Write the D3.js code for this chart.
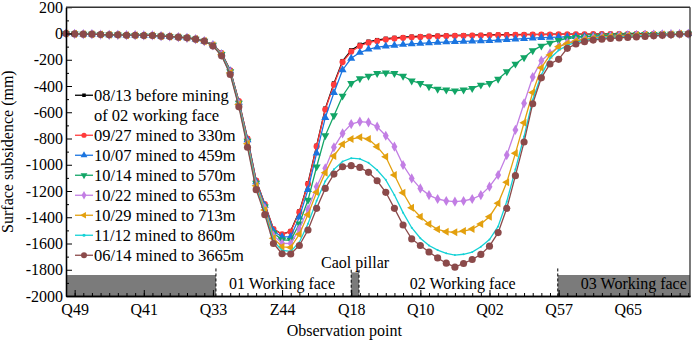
<!DOCTYPE html>
<html>
<head>
<meta charset="utf-8">
<script src="https://cdn.jsdelivr.net/npm/d3@7"></script>
<style>
  body { margin: 0; background: #fff; }
</style>
</head>
<body>
<script>
// observation points run Q50 ... left to right, one per index
const tickIndex = [1, 9, 17, 25, 33, 41, 49, 57, 65];
const tickLabels = ["Q49", "Q41", "Q33", "Z44", "Q18", "Q10", "Q02", "Q57", "Q65"];
const yTicks = [200, 0, -200, -400, -600, -800, -1000, -1200, -1400, -1600, -1800, -2000];

const s0813 = [0,-3,-5,-5,-8,-10,-10,-13,-13,-15,-15,-20,-23,-28,-33,-43,-58,-85,-150,-280,-515,-800,-1120,-1300,-1490,-1530,-1505,-1355,-1140,-855,-572,-380,-210,-128,-86,-62,-50,-40,-33,-28,-24,-21,-19,-17,-15,-14,-13,-12,-11,-10,-9,-8,-8,-7,-6,-6,-5,-5,-5,-4,-4,-4,-3,-3,-3,-3,-2,-2,-2,-2,-1,-1,-1];
const s0927 = [0,-3,-5,-5,-8,-10,-10,-13,-13,-15,-15,-20,-23,-28,-33,-43,-58,-85,-150,-280,-515,-800,-1120,-1300,-1490,-1530,-1510,-1361,-1147,-860,-579,-390,-218,-138,-95,-70,-57,-46,-38,-33,-29,-26,-23,-21,-19,-18,-17,-16,-15,-14,-13,-12,-11,-10,-9,-8,-8,-7,-7,-6,-6,-5,-5,-5,-4,-4,-4,-3,-3,-3,-2,-2,-2];
const s1007 = [0,-3,-5,-5,-8,-10,-10,-13,-13,-15,-15,-20,-23,-28,-33,-43,-58,-87,-155,-285,-525,-810,-1130,-1310,-1505,-1550,-1548,-1400,-1190,-912,-641,-451,-278,-189,-145,-120,-104,-97,-90,-84,-79,-75,-71,-68,-65,-62,-60,-58,-56,-54,-51,-47,-43,-39,-35,-32,-30,-27,-25,-24,-22,-20,-18,-16,-14,-12,-10,-9,-7,-6,-5,-3,-2];
const s1014 = [0,-3,-5,-5,-8,-10,-10,-13,-13,-15,-15,-20,-23,-28,-33,-43,-58,-88,-158,-290,-530,-820,-1140,-1320,-1520,-1572,-1575,-1450,-1269,-1015,-778,-626,-476,-379,-344,-324,-303,-299,-304,-324,-360,-380,-405,-423,-430,-436,-430,-418,-392,-380,-347,-291,-232,-183,-130,-95,-72,-52,-38,-30,-25,-20,-17,-14,-12,-10,-8,-7,-6,-5,-4,-3,-2];
const s1022 = [0,-3,-5,-5,-8,-10,-10,-13,-13,-15,-15,-20,-23,-28,-33,-43,-58,-90,-160,-295,-535,-830,-1150,-1330,-1540,-1598,-1600,-1490,-1340,-1167,-1027,-867,-761,-690,-672,-677,-710,-779,-862,-1002,-1104,-1180,-1231,-1261,-1276,-1281,-1276,-1261,-1231,-1167,-1078,-926,-735,-532,-332,-207,-151,-100,-70,-55,-40,-32,-26,-22,-18,-15,-12,-10,-8,-6,-5,-3,-2];
const s1029 = [0,-3,-5,-5,-8,-10,-10,-13,-13,-15,-15,-20,-23,-28,-33,-43,-58,-90,-162,-300,-540,-840,-1160,-1345,-1560,-1625,-1630,-1530,-1380,-1210,-1060,-933,-844,-804,-791,-804,-862,-939,-1078,-1213,-1327,-1396,-1452,-1492,-1510,-1515,-1505,-1490,-1452,-1396,-1294,-1134,-913,-680,-450,-261,-164,-100,-77,-58,-45,-36,-30,-25,-20,-17,-14,-11,-9,-7,-5,-3,-2];
const s1112 = [0,-3,-5,-5,-8,-10,-10,-13,-13,-15,-15,-20,-23,-28,-33,-43,-58,-92,-165,-305,-548,-852,-1175,-1362,-1580,-1652,-1660,-1590,-1450,-1275,-1125,-1035,-975,-950,-955,-985,-1040,-1115,-1230,-1365,-1480,-1560,-1615,-1650,-1675,-1688,-1682,-1665,-1625,-1570,-1470,-1280,-1035,-785,-505,-315,-190,-128,-90,-66,-52,-42,-36,-30,-26,-22,-18,-14,-11,-8,-6,-4,-3];
const s0614 = [0,-3,-5,-5,-8,-10,-10,-13,-13,-15,-15,-20,-23,-28,-33,-43,-58,-95,-170,-312,-559,-867,-1190,-1380,-1600,-1678,-1680,-1615,-1497,-1332,-1180,-1071,-1015,-1007,-1020,-1058,-1122,-1210,-1332,-1459,-1565,-1615,-1665,-1710,-1750,-1780,-1752,-1722,-1683,-1620,-1517,-1332,-1083,-827,-535,-338,-232,-197,-113,-80,-62,-50,-43,-38,-34,-30,-26,-22,-18,-14,-10,-6,-3];

const series = [
  {name: ["08/13 before mining", "of 02 working face"], values: s0813, color: "#000000", symbol: d3.symbolSquare, size: 18, rot: 0},
  {name: ["09/27 mined to 330m"], values: s0927, color: "#ff3b3b", symbol: d3.symbolCircle, size: 30, rot: 0},
  {name: ["10/07 mined to 459m"], values: s1007, color: "#1a74e0", symbol: d3.symbolTriangle, size: 28, rot: 0},
  {name: ["10/14 mined to 570m"], values: s1014, color: "#12a566", symbol: d3.symbolTriangle, size: 28, rot: 180},
  {name: ["10/22 mined to 653m"], values: s1022, color: "#c27ee4", symbol: d3.symbolDiamond, size: 30, rot: 0},
  {name: ["10/29 mined to 713m"], values: s1029, color: "#e3a00e", symbol: d3.symbolTriangle, size: 28, rot: -90},
  {name: ["11/12 mined to 860m"], values: s1112, color: "#14d2d6", symbol: d3.symbolCircle, size: 3, rot: 0},
  {name: ["06/14 mined to 3665m"], values: s0614, color: "#8b4a4a", symbol: d3.symbolCircle, size: 40, rot: 0}
];

const font = '"Liberation Serif", "Times New Roman", Times, serif';
const margin = {top: 7.25, right: 2, bottom: 47, left: 66};
const width = 692 - margin.left - margin.right;
const height = 343 - margin.top - margin.bottom;

const svg = d3.select("body").append("svg")
    .attr("width", 692)
    .attr("height", 343)
    .style("font-family", font)
  .append("g")
    .attr("transform", "translate(" + margin.left + "," + margin.top + ")");

const x = d3.scaleLinear().domain([0, 72.2]).range([0, width]);
const y = d3.scaleLinear().domain([-2000, 200]).range([height, 0]);

// mining zones along the bottom
const zones = [[0, 17.35, -1840], [33.0, 33.9, -1820], [56.9, 72.2, -1840]];
svg.selectAll(".zone").data(zones).enter().append("rect")
    .attr("x", d => x(d[0]))
    .attr("y", d => y(d[2]))
    .attr("width", d => x(d[1]) - x(d[0]))
    .attr("height", d => y(-2000) - y(d[2]))
    .attr("fill", "#7b7b7b");

const dashes = [[17.35, -1790], [33.0, -1800], [33.9, -1800], [56.9, -1790]];
svg.selectAll(".dash").data(dashes).enter().append("line")
    .attr("x1", d => x(d[0])).attr("x2", d => x(d[0]))
    .attr("y1", d => y(d[1])).attr("y2", y(-2000))
    .attr("stroke", "#000").attr("stroke-width", 1)
    .attr("stroke-dasharray", "3,2");

const zoneText = [["01 Working face", 25, -1901], ["02 Working face", 45.9, -1901], ["03 Working face", 65.7, -1901], ["Caol pillar", 33.45, -1746]];
svg.selectAll(".ztext").data(zoneText).enter().append("text")
    .attr("x", d => x(d[1]))
    .attr("y", d => y(d[2]))
    .attr("dy", "0.35em")
    .attr("text-anchor", "middle")
    .attr("font-size", 16)
    .text(d => d[0]);

const line = d3.line().x((d, i) => x(i)).y(d => y(d));

series.forEach(s => {
    svg.append("path")
        .datum(s.values)
        .attr("fill", "none")
        .attr("stroke", s.color)
        .attr("stroke-width", 1.3)
        .attr("d", line);
    svg.append("g").selectAll("path")
        .data(s.values)
        .enter().append("path")
        .attr("transform", (d, i) => "translate(" + x(i) + "," + y(d) + ") rotate(" + s.rot + ")")
        .attr("d", d3.symbol().type(s.symbol).size(s.size))
        .attr("fill", s.color);
});

// axes, ticks inward
const xMinor = d3.range(0, 73);
svg.append("g")
    .attr("transform", "translate(0," + height + ")")
    .call(d3.axisBottom(x).tickValues(xMinor).tickSize(-3).tickFormat("").tickSizeOuter(0));
svg.append("g")
    .attr("transform", "translate(0," + height + ")")
    .call(d3.axisBottom(x).tickValues(tickIndex).tickSize(-6).tickPadding(8)
        .tickFormat((d, i) => tickLabels[i]).tickSizeOuter(0));

svg.append("g")
    .call(d3.axisLeft(y).tickValues(d3.range(-1900, 200, 200)).tickSize(-3).tickFormat("").tickSizeOuter(0));
svg.append("g")
    .call(d3.axisLeft(y).tickValues(yTicks).tickSize(-6).tickPadding(3)
        .tickFormat(d => String(d)).tickSizeOuter(0));

svg.selectAll(".domain").attr("stroke-width", 1.3);
svg.selectAll(".tick text").attr("font-size", 16).attr("fill", "#000");

svg.append("line").attr("x1", 0).attr("x2", width).attr("y1", 0).attr("y2", 0)
    .attr("stroke", "#333").attr("stroke-width", 1.3);
svg.append("line").attr("x1", width).attr("x2", width).attr("y1", 0).attr("y2", height)
    .attr("stroke", "#333").attr("stroke-width", 1.3);

// legend
let row = 0;
const legend = svg.append("g").attr("transform", "translate(9,88)");
series.forEach(s => {
    const g = legend.append("g").attr("transform", "translate(0," + row * 20 + ")");
    g.append("line").attr("x1", 0).attr("x2", 18).attr("stroke", s.color).attr("stroke-width", 1.3);
    g.append("path")
        .attr("transform", "translate(9,0) rotate(" + s.rot + ")")
        .attr("d", d3.symbol().type(s.symbol).size(Math.max(s.size * 0.7, 8)))
        .attr("fill", s.color);
    s.name.forEach((t, j) => {
        g.append("text")
            .attr("x", 19)
            .attr("y", j * 20)
            .attr("dy", "0.35em")
            .attr("font-size", 16.5)
            .text(t);
    });
    row += s.name.length;
});

svg.append("text")
    .attr("transform", "rotate(-90)")
    .attr("x", -height / 2)
    .attr("y", -53)
    .attr("text-anchor", "middle")
    .attr("font-size", 16)
    .text("Surface subsidence (mm)");

svg.append("text")
    .attr("x", x(32.2))
    .attr("y", height + 40)
    .attr("text-anchor", "middle")
    .attr("font-size", 16)
    .text("Observation point");

d3.selectAll("text").attr("font-family", font).style("font-family", font);
</script>
</body>
</html>
